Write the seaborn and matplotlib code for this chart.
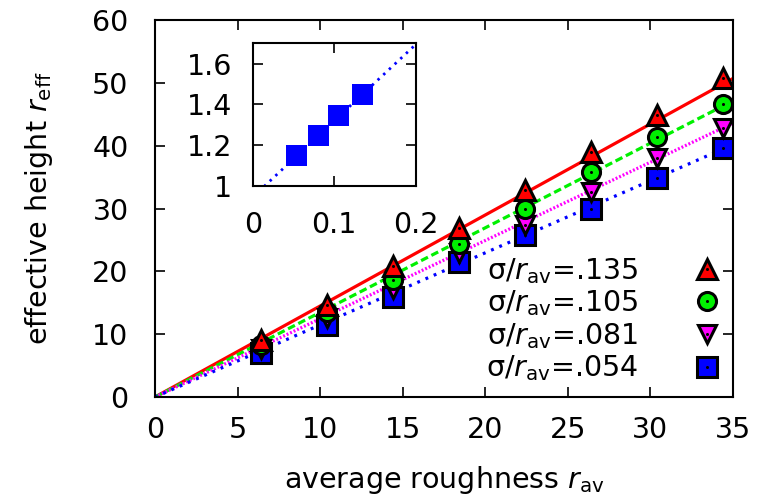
import numpy as np
import pandas as pd
import matplotlib
matplotlib.use("Agg")
import matplotlib.pyplot as plt
import seaborn as sns
from matplotlib.lines import Line2D
from matplotlib.legend_handler import HandlerTuple

sns.set_theme(style="ticks")
plt.rcParams['font.family'] = ['DejaVu Sans']
plt.rcParams['mathtext.fontset'] = 'custom'
plt.rcParams['mathtext.rm'] = 'DejaVu Sans'
plt.rcParams['mathtext.it'] = 'DejaVu Sans:italic'
plt.rcParams['mathtext.bf'] = 'DejaVu Sans:bold'
plt.rcParams['text.color'] = 'black'
plt.rcParams['axes.labelcolor'] = 'black'
plt.rcParams['xtick.color'] = 'black'
plt.rcParams['ytick.color'] = 'black'

# ---- data ----
r_av = [6.4, 10.4, 14.4, 18.4, 22.4, 26.4, 30.4, 34.4]
r_eff_135 = [9.1, 14.6, 20.8, 26.9, 33.0, 39.0, 44.9, 50.8]
r_eff_105 = [8.3, 13.6, 18.7, 24.4, 29.9, 35.8, 41.4, 46.7]
r_eff_081 = [7.7, 12.6, 17.2, 22.9, 27.4, 32.6, 38.0, 42.9]
r_eff_054 = [7.0, 11.5, 16.0, 21.5, 25.8, 30.0, 34.8, 39.6]
series_labels = [".135", ".105", ".081", ".054"]

# inset: slope of r_eff vs r_av as function of sigma/r_av
sigma_ratio = [0.054, 0.081, 0.105, 0.135]
slopes = [1.148, 1.246, 1.347, 1.449]
inset_fit = (0.944, 3.75)  # intercept, slope of dotted fit line

x_line = [0, 35]

FS = 20.5
colors = ["#ff0000", "#00f000", "#ff00ff", "#0000ff"]
markers = ["^", "o", "v", "s"]
msizes = [15, 13, 13, 14]
line_styles = [(0, ()), (0, (2.4, 1.2)), (0, (0.6, 0.6)), (0, (0.9, 1.9))]
r_sets = [r_eff_135, r_eff_105, r_eff_081, r_eff_054]
slope_main = [slopes[3], slopes[2], slopes[1], slopes[0]]

fig = plt.figure(figsize=(7.58, 5.03), dpi=100)
ax = fig.add_axes([0.2045, 0.2107, 0.7625, 0.7493])

# fit lines
for i in range(4):
    yl = [slope_main[i] * xv for xv in x_line]
    sns.lineplot(x=x_line, y=yl, ax=ax, color=colors[i], lw=2.3,
                 linestyle=line_styles[i], legend=False, zorder=2)

# points (square first, triangle last on top)
for i in [3, 2, 1, 0]:
    df = pd.DataFrame({"x": r_av, "y": r_sets[i]})
    ax.plot(df["x"], df["y"], linestyle="none", marker=markers[i],
            ms=msizes[i], mfc=colors[i], mec="black", mew=2.2, zorder=3 + (3 - i))
    ax.plot(df["x"], df["y"], linestyle="none", marker="o", ms=2.2,
            mfc="black", mec="black", mew=0, zorder=3.5 + (3 - i))

handles = []
for i in range(4):
    h1 = Line2D([], [], linestyle="none", marker=markers[i], ms=msizes[i],
                mfc=colors[i], mec="black", mew=2.2)
    h2 = Line2D([], [], linestyle="none", marker="o", ms=2.2, mfc="black",
                mec="black", mew=0)
    handles.append((h1, h2))

labels = [r"σ/$r_{\mathrm{av}}$=" + s for s in series_labels]
leg = ax.legend(handles, labels, handler_map={tuple: HandlerTuple(ndivide=1, pad=0)},
                loc="lower right", bbox_to_anchor=(1.0, 0.036), frameon=False,
                markerfirst=False, fontsize=FS, handlelength=1.8,
                handletextpad=1.54, labelspacing=0.1, borderpad=0, borderaxespad=0)
for t in leg.get_texts():
    t.set_color("black")

ax.set_xlim(0, 35)
ax.set_ylim(0, 60)
ax.set_xticks([0, 5, 10, 15, 20, 25, 30, 35])
ax.set_yticks([0, 10, 20, 30, 40, 50, 60])
ax.tick_params(direction="in", length=7, width=1.2, labelsize=FS, top=True, right=True,
               colors="black")
ax.tick_params(axis="x", pad=14)
ax.tick_params(axis="y", pad=19)
for s in ax.spines.values():
    s.set_linewidth(1.5)
    s.set_color("black")
ax.set_xlabel(r"average roughness $r_{\mathrm{av}}$", fontsize=FS, labelpad=14, color="black")
ax.set_ylabel(r"effective height $r_{\mathrm{eff}}$", fontsize=FS, labelpad=27, color="black")

# inset
axi = fig.add_axes([0.3334, 0.6308, 0.2150, 0.2831])
x_fit = [0, 0.2]
y_fit = [inset_fit[0] + inset_fit[1] * xv for xv in x_fit]
sns.lineplot(x=x_fit, y=y_fit, ax=axi, color="#0000ff", lw=2.0,
             linestyle=(0, (0.9, 1.9)), legend=False)
sns.scatterplot(x=sigma_ratio, y=slopes, ax=axi, marker="s", s=230,
                color="#0000ff", edgecolor="none", zorder=3)
axi.set_xlim(0, 0.2)
axi.set_ylim(1, 1.7)
axi.set_xticks([0, 0.1, 0.2])
axi.set_xticklabels(["0", "0.1", "0.2"])
axi.set_yticks([1, 1.2, 1.4, 1.6])
axi.set_yticklabels(["1", "1.2", "1.4", "1.6"])
axi.tick_params(direction="in", length=7, width=1.2, labelsize=FS, top=True, right=True,
                colors="black")
axi.tick_params(axis="x", pad=18)
axi.tick_params(axis="y", pad=15)
for s in axi.spines.values():
    s.set_linewidth(1.5)
    s.set_color("black")

fig.savefig("out.png", dpi=100)
